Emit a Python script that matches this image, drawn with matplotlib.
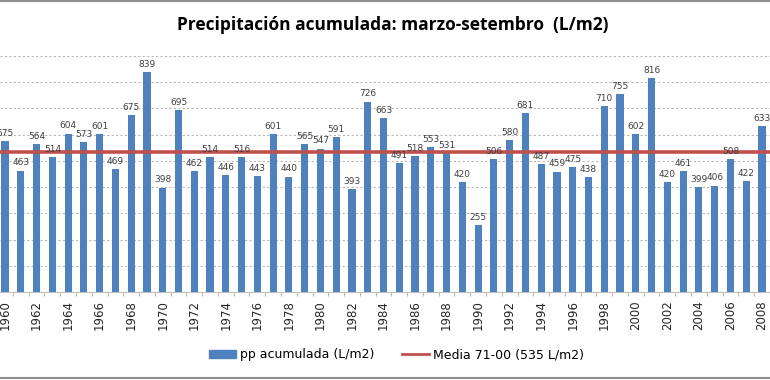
import numpy as np
import matplotlib.pyplot as plt
from matplotlib.lines import Line2D

years = list(range(1960, 2009))
pp = [575, 463, 564, 514, 604, 573, 601, 469, 675, 839,
      398, 695, 462, 514, 446, 516, 443, 601, 440, 565,
      547, 591, 393, 726, 663, 491, 518, 553, 531, 420,
      255, 506, 580, 681, 487, 459, 475, 438, 710, 755,
      602, 816, 420, 461, 399, 406, 508, 422, 633]
media = 535
tick_years = years[::2]

blue = '#4F81BD'
red = '#C0504D'

fig = plt.figure(figsize=(7.7, 3.8), dpi=100)
ax = fig.add_axes([0, 0.2316, 1, 0.621])

ax.bar(years, pp, width=0.45, color=blue, zorder=3, label='pp acumulada (L/m2)')
ax.axhline(media, color=red, lw=2.6, zorder=4, label='Media 71-00 (535 L/m2)')

for x, v in zip(years, pp):
    ax.text(x, v + 12, str(v), ha='center', va='bottom', fontsize=6.5,
            color='#404040', zorder=5)

ax.set_xlim(1959.68, 2008.51)
ax.set_ylim(0, 900)
ax.set_yticks(range(0, 901, 100))
ax.yaxis.grid(True, color='#b8b8b8', ls=(0, (2, 2)), lw=0.8, zorder=0)
ax.tick_params(axis='y', left=False, labelleft=False)

ax.set_xticks(tick_years)
ax.set_xticklabels([str(y) for y in tick_years], rotation=90, fontsize=8.5,
                   color='#262626')
ax.set_xticks(np.array(years) + 0.5, minor=True)
ax.tick_params(axis='x', which='major', length=0, pad=6)
ax.tick_params(axis='x', which='minor', length=3, color='#b0a890')

for s in ['top', 'left', 'right']:
    ax.spines[s].set_visible(False)
ax.spines['bottom'].set_color('#c0c0c0')

fig.text(0.51, 0.935, 'Precipitación acumulada: marzo-setembro  (L/m2)',
         ha='center', va='center', fontsize=12.5, fontweight='bold',
         family='Open Sans')

handles = [plt.Rectangle((0, 0), 1, 1, color=blue),
           Line2D([0], [0], color=red, lw=2)]
fig.legend(handles, ['pp acumulada (L/m2)', 'Media 71-00 (535 L/m2)'],
           loc='center', bbox_to_anchor=(0.515, 0.066), ncol=2, frameon=False,
           fontsize=9, handlelength=2.2, handleheight=0.6, columnspacing=2.2,
           handletextpad=0.3)

fig.add_artist(Line2D([0, 1], [0.998, 0.998], color='#909090', lw=1.5))
fig.add_artist(Line2D([0, 1], [0.006, 0.006], color='#909090', lw=1.5))

fig.savefig('out.png', dpi=100)
